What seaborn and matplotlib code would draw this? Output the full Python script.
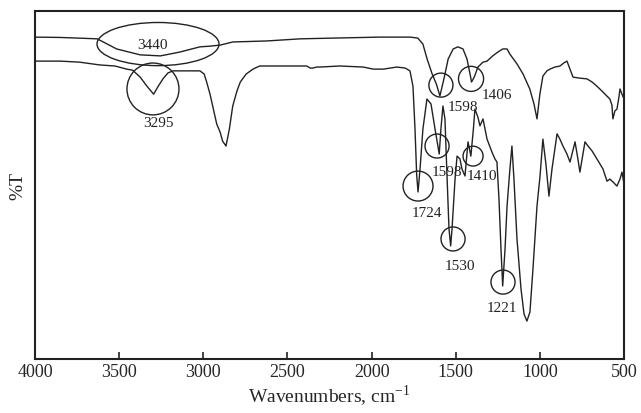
import matplotlib
matplotlib.use("Agg")
import matplotlib.pyplot as plt
from matplotlib.patches import Ellipse
import seaborn as sns
import pandas as pd

# ---- data ----
upper_wn = [4000, 3850, 3735, 3630, 3515, 3375, 3255, 3140, 3020, 2960,
            2900, 2825, 2620, 2425, 2245, 1950, 1770, 1725, 1695, 1670,
            1640, 1615, 1594, 1570, 1545, 1515, 1487, 1457, 1433, 1415,
            1406, 1390, 1368, 1338, 1314, 1280, 1250, 1220, 1195, 1178,
            1136, 1100, 1060, 1035, 1017, 1000, 982, 958, 940, 910,
            880, 857, 839, 821, 803, 762, 720, 690, 661, 625,
            584, 572, 566, 554, 542, 530, 524, 512, 500]
upper_t = [92.5, 92.4, 92.2, 92.0, 89.1, 87.4, 87.1, 88.2, 89.7, 89.9,
           90.2, 91.1, 91.4, 92.0, 92.2, 92.5, 92.5, 92.2, 90.5, 86.2,
           81.9, 79.0, 75.6, 80.5, 86.2, 89.1, 89.7, 89.1, 86.2, 81.9,
           79.6, 81.0, 83.9, 85.3, 85.6, 87.1, 88.2, 89.1, 89.1, 87.6,
           84.8, 81.9, 77.6, 73.3, 69.0, 76.1, 81.3, 82.8, 83.3, 83.9,
           84.2, 85.1, 85.6, 83.3, 81.0, 80.7, 80.5, 79.6, 78.4, 76.7,
           74.7, 73.0, 69.0, 71.3, 71.8, 75.3, 77.6, 76.1, 74.7]

lower_wn = [4000, 3850, 3735, 3615, 3525, 3455, 3420, 3375, 3335, 3295,
            3270, 3240, 3210, 3180, 3110, 3020, 2995, 2980, 2960, 2940,
            2920, 2900, 2885, 2865, 2845, 2825, 2800, 2780, 2745, 2705,
            2665, 2545, 2385, 2365, 2350, 2325, 2305, 2190, 2050, 1990,
            1930, 1850, 1800, 1772, 1754, 1742, 1732, 1724, 1712, 1695,
            1671, 1647, 1623, 1598, 1588, 1576, 1564, 1552, 1540, 1530,
            1522, 1504, 1492, 1475, 1463, 1445, 1427, 1418, 1410, 1395,
            1386, 1368, 1356, 1338, 1314, 1285, 1267, 1255, 1243, 1231,
            1221, 1207, 1195, 1178, 1166, 1154, 1136, 1112, 1094, 1077,
            1059, 1041, 1017, 999, 982, 964, 946, 928, 898, 881,
            863, 839, 821, 791, 774, 762, 744, 732, 714, 690,
            661, 625, 601, 584, 566, 542, 524, 512, 500]
lower_t = [85.6, 85.6, 85.3, 84.5, 84.2, 83.3, 83.0, 81.0, 78.4, 76.1,
           78.2, 80.5, 82.2, 82.8, 82.8, 82.8, 81.9, 79.6, 76.1, 71.8,
           67.5, 65.2, 62.6, 61.2, 66.1, 72.7, 77.0, 79.6, 81.9, 83.3,
           84.2, 84.2, 84.2, 83.6, 83.6, 83.9, 83.9, 84.2, 83.9, 83.3,
           83.3, 83.9, 83.6, 82.8, 78.4, 66.1, 52.9, 48.0, 54.6, 66.1,
           74.7, 73.3, 66.1, 58.9, 66.1, 72.7, 69.0, 52.9, 37.4, 32.5,
           37.4, 51.7, 58.3, 57.5, 54.6, 52.6, 62.4, 60.3, 58.3, 66.1,
           71.8, 69.5, 67.0, 69.0, 63.2, 59.5, 57.5, 56.6, 46.0, 31.6,
           21.0, 31.6, 44.0, 54.6, 61.2, 51.7, 34.5, 20.1, 12.9, 10.9,
           13.5, 25.9, 44.0, 52.6, 63.2, 56.0, 46.8, 54.6, 64.7, 63.2,
           61.2, 58.9, 56.6, 62.4, 57.5, 53.7, 58.9, 62.4, 61.2, 59.8,
           57.5, 54.6, 51.1, 51.7, 50.9, 49.7, 51.7, 53.7, 50.3]

# annotations: label, marker centre (wn, T), marker size (wn, T), label pos (wn, T)
ann_labels = ["3440", "3295", "1598", "1406", "1598", "1410", "1724", "1530", "1221"]
ann_cx = [3269, 3299, 1588, 1409, 1611, 1397, 1724, 1516, 1219]
ann_cy = [90.5, 77.6, 78.7, 80.5, 61.2, 58.3, 49.7, 34.5, 22.1]
ann_w = [725, 309, 143, 149, 143, 119, 178, 143, 143]
ann_h = [12.4, 14.9, 6.9, 7.2, 6.9, 5.7, 8.6, 6.9, 6.9]
ann_tx = [3305, 3269, 1457, 1255, 1552, 1344, 1671, 1475, 1225]
ann_ty = [90.5, 68.1, 72.7, 76.1, 54.0, 52.6, 42.2, 27.0, 14.9]

xticks = [4000, 3500, 3000, 2500, 2000, 1500, 1000, 500]

# ---- plot ----
sns.set_theme(style="white")
plt.rcParams["font.family"] = ["Liberation Serif", "DejaVu Serif"]
plt.rcParams["mathtext.fontset"] = "custom"
plt.rcParams["mathtext.rm"] = "Liberation Serif"

fig = plt.figure(figsize=(6.41, 4.14), dpi=100)
ax = fig.add_axes([0.0546, 0.1304, 0.9189, 0.8406])

df_u = pd.DataFrame({"wn": upper_wn, "T": upper_t})
df_l = pd.DataFrame({"wn": lower_wn, "T": lower_t})
sns.lineplot(data=df_u, x="wn", y="T", ax=ax, color="#222222", lw=1.0,
             sort=False, estimator=None)
sns.lineplot(data=df_l, x="wn", y="T", ax=ax, color="#222222", lw=1.0,
             sort=False, estimator=None)

for lab, cx, cy, w, h, tx, ty in zip(ann_labels, ann_cx, ann_cy, ann_w, ann_h, ann_tx, ann_ty):
    ax.add_patch(Ellipse((cx, cy), w, h, fill=False, ec="#222222", lw=1.0))
    ax.text(tx, ty, lab, ha="center", va="center", fontsize=11, color="#222222")

ax.set_xlim(4000, 500)
ax.set_ylim(0, 100)
ax.set_xticks(xticks)
ax.set_xticklabels([str(t) for t in xticks], fontsize=13)
ax.set_yticks([])
ax.tick_params(axis="x", direction="in", length=5, width=1.2, color="#222222",
               bottom=True, pad=3)
for s in ax.spines.values():
    s.set_color("#222222")
    s.set_linewidth(1.5)
ax.set_xlabel("Wavenumbers, cm$^{\\mathregular{-1}}$", fontsize=14, labelpad=2)
ax.set_ylabel("%T", fontsize=14, labelpad=6)

fig.savefig("out.png", dpi=100, facecolor="white")
